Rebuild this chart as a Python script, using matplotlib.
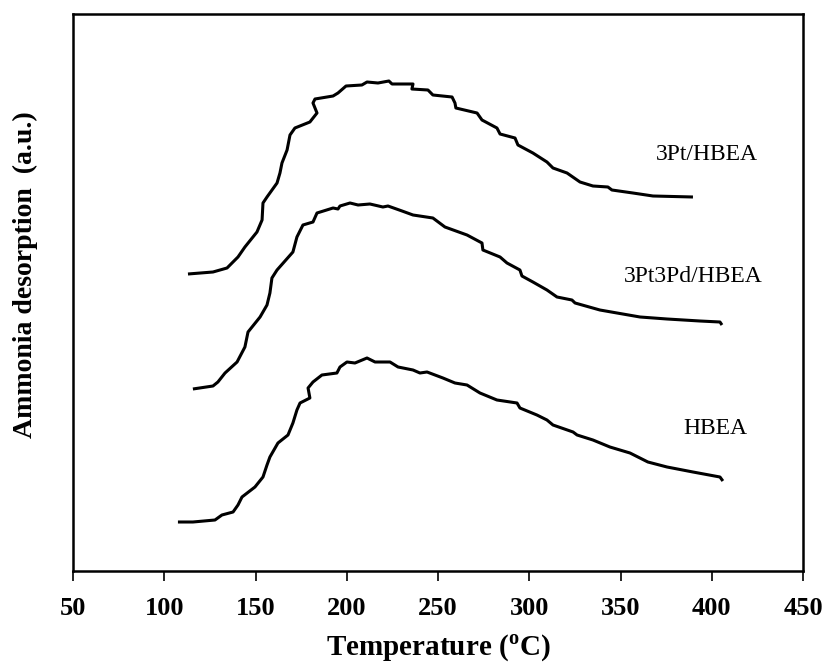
import matplotlib
matplotlib.use("Agg")
import matplotlib.pyplot as plt

plt.rcParams['font.family'] = ['Liberation Serif', 'DejaVu Serif']
plt.rcParams['mathtext.fontset'] = 'custom'
plt.rcParams['mathtext.rm'] = 'Liberation Serif:bold'
plt.rcParams['mathtext.bf'] = 'Liberation Serif:bold'

# ---- data (signal in arbitrary units) ----
t_ptb = [113.0, 126.7, 134.4, 140.4, 144.2, 150.8, 153.6, 154.1, 156.3, 161.8, 163.4, 164.5,
         167.3, 168.9, 171.6, 179.8, 183.7, 181.5, 182.6, 192.5, 195.2, 199.6, 208.3, 211.1,
         217.1, 223.1, 224.8, 236.3, 235.7, 244.5, 247.2, 257.7, 259.3, 259.8, 271.4, 274.1,
         282.3, 284.0, 292.2, 293.8, 302.0, 309.7, 313.0, 320.7, 327.8, 334.9, 343.1, 345.3,
         356.8, 367.8, 389.7]
s_ptb = [297, 299, 303, 314, 324, 339, 351, 368, 374, 388, 398, 408,
         421, 436, 443, 449, 458, 468, 472, 475, 478, 485, 486, 489,
         488, 490, 487, 487, 482, 481, 476, 474, 468, 463, 458, 451,
         443, 437, 433, 426, 418, 409, 403, 398, 389, 385, 384, 381,
         378, 375, 374]

t_ptpd = [115.7, 126.7, 129.4, 133.3, 139.9, 144.2, 145.9, 152.5, 156.3, 157.9, 159.0, 161.8,
          170.5, 172.7, 176.0, 181.5, 183.7, 192.5, 195.2, 196.3, 201.8, 206.2, 212.7, 219.8,
          222.6, 230.3, 236.3, 247.2, 253.8, 265.9, 274.1, 274.6, 284.0, 287.8, 294.9, 296.0,
          302.0, 309.7, 315.2, 323.4, 325.1, 338.7, 348.1, 360.7, 375.5, 393.5, 404.5, 405.6]
s_ptpd = [182, 185, 189, 198, 209, 224, 239, 254, 266, 278, 293, 301,
          319, 334, 346, 349, 358, 363, 362, 365, 368, 366, 367, 364,
          365, 360, 356, 353, 344, 336, 328, 321, 314, 308, 301, 295,
          289, 281, 274, 271, 268, 261, 258, 254, 252, 250, 249, 246]

t_hbea = [107.5, 115.7, 127.8, 131.6, 137.7, 140.4, 142.6, 149.7, 154.1, 156.3, 157.9, 162.3,
          167.8, 170.5, 172.7, 174.4, 179.8, 178.8, 181.5, 186.4, 194.6, 196.3, 200.1, 204.5,
          211.1, 215.5, 223.7, 228.1, 236.3, 240.1, 244.0, 252.7, 259.3, 265.9, 273.0, 282.3,
          293.3, 294.9, 304.2, 309.7, 313.0, 324.0, 326.2, 334.9, 344.2, 355.2, 365.0, 375.5,
          389.7, 404.5, 406.1]
s_hbea = [49, 49, 51, 56, 59, 66, 74, 84, 94, 106, 114, 128,
          136, 148, 161, 168, 173, 183, 189, 196, 198, 204, 209, 208,
          213, 209, 209, 204, 201, 198, 199, 193, 188, 186, 178, 171,
          168, 163, 156, 151, 146, 139, 136, 131, 124, 118, 109, 104,
          99, 94, 90]

labels = ['3Pt/HBEA', '3Pt3Pd/HBEA', 'HBEA']
label_t = [397.4, 389.7, 401.8]
label_s = [416, 294, 143]

xticks = [50, 100, 150, 200, 250, 300, 350, 400, 450]

# ---- figure ----
fig = plt.figure(figsize=(8.25, 6.64), dpi=100)
ax = fig.add_axes([73/825, 1-571/664, 730/825, 557/664])

for t, s in [(t_ptb, s_ptb), (t_ptpd, s_ptpd), (t_hbea, s_hbea)]:
    ax.plot(t, s, color='black', lw=2.2, solid_joinstyle='round', solid_capstyle='butt')

for lab, tx, sy in zip(labels, label_t, label_s):
    ax.text(tx, sy, lab, ha='center', va='center', fontsize=17)

ax.set_xlim(50, 450)
ax.set_ylim(0, 557)
ax.set_xticks(xticks)
ax.set_xticklabels([str(v) for v in xticks], fontweight='bold', fontsize=19)
ax.set_yticks([])
ax.tick_params(axis='x', direction='out', length=7, width=1.2, pad=12)
for sp in ax.spines.values():
    sp.set_linewidth(1.8)

fig.text(438/825, 1-648/664, r'Temperature ($^{\mathbf{o}}$C)', ha='center', va='center',
         fontsize=21, fontweight='bold')
fig.text(25/825, 1-275/664, 'Ammonia desorption  (a.u.)', ha='center', va='center',
         rotation=90, fontsize=20, fontweight='bold')

fig.savefig('out.png', dpi=100)
